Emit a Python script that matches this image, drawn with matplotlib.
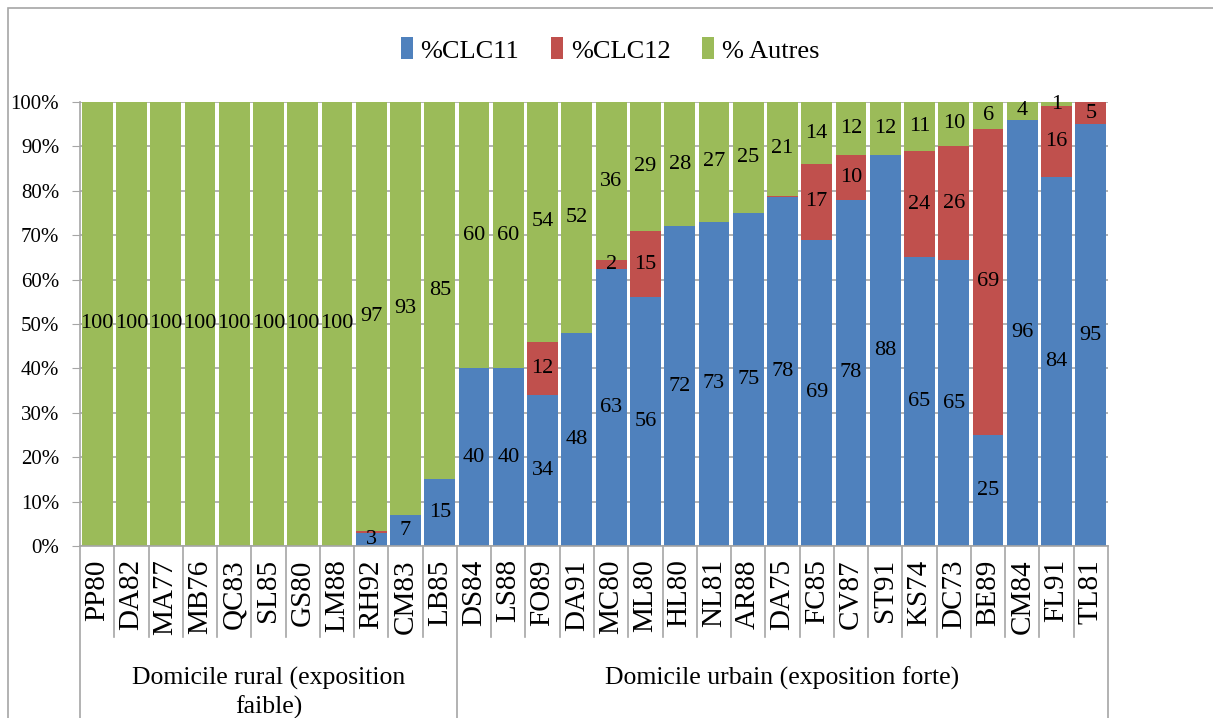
import numpy as np
import matplotlib.pyplot as plt
from matplotlib.patches import Rectangle
from matplotlib.transforms import blended_transform_factory

SERIF = ['Liberation Serif', 'DejaVu Serif']
plt.rcParams['font.family'] = SERIF

# data
categories = ['PP80', 'DA82', 'MA77', 'MB76', 'QC83', 'SL85', 'GS80', 'LM88', 'RH92', 'CM83', 'LB85',
              'DS84', 'LS88', 'FO89', 'DA91', 'MC80', 'ML80', 'HL80', 'NL81', 'AR88', 'DA75', 'FC85',
              'CV87', 'ST91', 'KS74', 'DC73', 'BE89', 'CM84', 'FL91', 'TL81']
clc11 = [0, 0, 0, 0, 0, 0, 0, 0, 3, 7, 15,
         40, 40, 34, 48, 63, 56, 72, 73, 75, 78, 69, 78, 88, 65, 65, 25, 96, 84, 95]
clc12 = [0, 0, 0, 0, 0, 0, 0, 0, 0.3, 0, 0,
         0, 0, 12, 0, 2, 15, 0, 0, 0, 0.3, 17, 10, 0, 24, 26, 69, 0, 16, 5]
autres = [100, 100, 100, 100, 100, 100, 100, 100, 97, 93, 85,
          60, 60, 54, 52, 36, 29, 28, 27, 25, 21, 14, 12, 12, 11, 10, 6, 4, 1, 0]
groups = ['Domicile rural (exposition\nfaible)', 'Domicile urbain (exposition forte)']
group_sizes = [11, 19]

series = [('%CLC11', clc11, '#4F81BD'), ('%CLC12', clc12, '#C0504D'), ('% Autres', autres, '#9BBB59')]

fig = plt.figure(figsize=(12.13, 7.18), dpi=100)
ax = fig.add_axes([80 / 1213, 1 - 546 / 718, 1028 / 1213, 444 / 718])

# outer chart frame (runs off the picture at the right and bottom)
fig.patches.append(Rectangle((8 / 1213, -0.05), 1.1, 1 - 8 / 718 + 0.05, transform=fig.transFigure,
                             fill=False, edgecolor='#a6a6a6', linewidth=1.2))

x = np.arange(len(categories))
totals = np.array(clc11) + np.array(clc12) + np.array(autres)
bottom = np.zeros(len(categories))
for name, vals, col in series:
    vals = np.array(vals, dtype=float)
    pct = vals / totals * 100
    ax.bar(x, pct, 0.9, bottom=bottom, color=col, label=name, zorder=2)
    for xi, b, p, v in zip(x, bottom, pct, vals):
        if v >= 0.5:
            ax.text(xi, b + p / 2, '%d' % round(v), ha='center', va='center', fontsize=16,
                    family=SERIF, zorder=3)
    bottom += pct

ax.set_xlim(-0.5, len(categories) - 0.5)
ax.set_ylim(0, 100)
ax.set_yticks(np.arange(0, 101, 10))
ax.set_yticklabels(['%d%%' % t for t in range(0, 101, 10)], fontsize=15, family=SERIF)
ax.yaxis.grid(True, color='#a6a6a6', linewidth=1.2, zorder=0)
ax.tick_params(axis='y', length=6, color='#a6a6a6', pad=9)
ax.set_xticks([])
for s in ['top', 'right']:
    ax.spines[s].set_visible(False)
for s in ['left', 'bottom']:
    ax.spines[s].set_color('#a6a6a6')
    ax.spines[s].set_linewidth(1.2)

# category labels and separators below the axis
trans = blended_transform_factory(ax.transData, ax.transAxes)
for xi, c in zip(x, categories):
    ax.text(xi, -0.03, c, rotation=90, ha='center', va='top', fontsize=21, family=SERIF,
            transform=trans)
edges = np.cumsum([0] + group_sizes) - 0.5
for e in np.arange(-0.5, len(categories)):
    low = -0.39 if e in edges else -0.205
    ax.plot([e, e], [0, low], color='#a6a6a6', linewidth=1.2, transform=trans, clip_on=False)
for g, start, n in zip(groups, edges[:-1], group_sizes):
    ax.text(start + n / 2, -0.272, g, ha='center', va='top', fontsize=18.5, family=SERIF,
            transform=trans, linespacing=1.3)

ax.legend(loc='center', bbox_to_anchor=(610 / 1213, 1 - 50 / 718), bbox_transform=fig.transFigure,
          ncol=3, frameon=False, prop={'family': SERIF, 'size': 19}, handlelength=0.45,
          handleheight=0.9, handletextpad=0.3, columnspacing=1.2)

fig.savefig('out.png', dpi=100)
